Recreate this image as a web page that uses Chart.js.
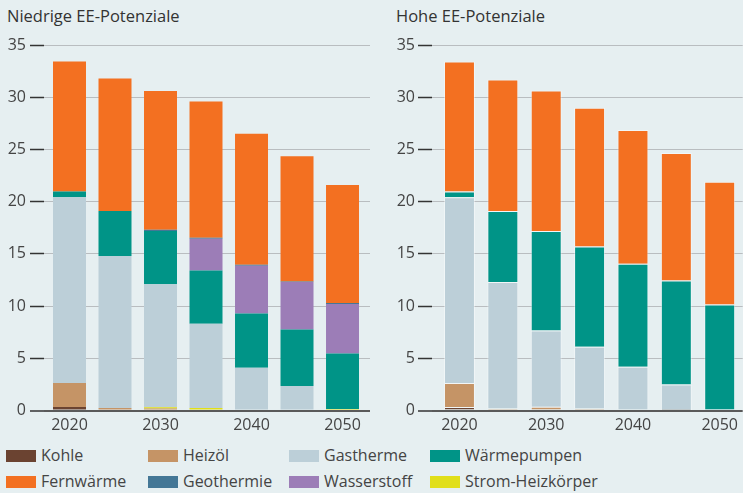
<!DOCTYPE html>
<html>
<head>
<meta charset="utf-8">
<script src="https://cdn.jsdelivr.net/npm/chart.js@4"></script>
<style>
  body { margin: 0; background: #e6eff1; width: 743px; height: 493px; overflow: hidden; position: relative; font-family: "Open Sans", sans-serif; }
  .panel { position: absolute; top: 0; height: 440px; }
  .title { position: absolute; top: 5px; font-size: 16.5px; color: #333; line-height: 22px; }
  .legend { position: absolute; left: 0; top: 444px; width: 743px; font-family: "Open Sans", sans-serif; font-size: 16px; color: #444; }
  .item { position: absolute; height: 22px; line-height: 22px; white-space: nowrap; }
  .sw { display: inline-block; width: 30px; height: 12px; vertical-align: -1px; margin-right: 5px; }
</style>
</head>
<body>
<div class="title" style="left:7px">Niedrige EE-Potenziale</div>
<div class="title" style="left:396px">Hohe EE-Potenziale</div>
<div class="panel" style="left:0;width:370px"><canvas id="chartLow"></canvas></div>
<div class="panel" style="left:370px;width:373px"><canvas id="chartHigh"></canvas></div>
<div class="legend" id="legend"></div>
<script>
var years = [2020, 2025, 2030, 2035, 2040, 2045, 2050];

var names = ['Kohle', 'Heizöl', 'Strom-Heizkörper', 'Gastherme', 'Wärmepumpen', 'Wasserstoff', 'Geothermie', 'Fernwärme'];
var colors = {
  'Kohle': '#6b4331',
  'Heizöl': '#c59466',
  'Gastherme': '#bccfd8',
  'Wärmepumpen': '#009487',
  'Fernwärme': '#f37021',
  'Geothermie': '#447796',
  'Wasserstoff': '#9c7db7',
  'Strom-Heizkörper': '#e1df1a'
};
var legendOrder = ['Kohle', 'Heizöl', 'Gastherme', 'Wärmepumpen', 'Fernwärme', 'Geothermie', 'Wasserstoff', 'Strom-Heizkörper'];

// Niedrige EE-Potenziale
var low_kohle = [0.33, 0, 0, 0, 0, 0, 0];
var low_heizoel = [2.3, 0.25, 0.2, 0.1, 0, 0, 0];
var low_strom = [0, 0, 0.1, 0.15, 0.1, 0.1, 0.15];
var low_gas = [17.8, 14.55, 11.8, 8.05, 4.0, 2.25, 0];
var low_wp = [0.55, 4.3, 5.1, 5.1, 5.2, 5.4, 5.3];
var low_h2 = [0, 0, 0, 3.05, 4.55, 4.55, 4.75];
var low_geo = [0, 0, 0.1, 0.1, 0.1, 0.05, 0.1];
var low_fw = [12.45, 12.7, 13.3, 13.05, 12.55, 12.0, 11.3];

// Hohe EE-Potenziale
var high_kohle = [0.33, 0, 0, 0, 0, 0, 0];
var high_heizoel = [2.3, 0.2, 0.35, 0.2, 0.1, 0.05, 0];
var high_strom = [0, 0, 0, 0, 0, 0, 0];
var high_gas = [17.8, 12.1, 7.3, 5.9, 4.1, 2.45, 0];
var high_wp = [0.55, 6.8, 9.55, 9.6, 9.85, 9.95, 10.15];
var high_h2 = [0, 0, 0, 0, 0, 0, 0];
var high_geo = [0, 0, 0, 0, 0, 0, 0];
var high_fw = [12.45, 12.6, 13.45, 13.3, 12.8, 12.2, 11.75];

var yTicks = [0, 5, 10, 15, 20, 25, 30, 35];

function makeSets(series, border) {
  return series.map(function(vals, k) {
    return {
      label: names[k],
      data: years.map(function(yr, i) { return {x: yr, y: vals[i]}; }),
      backgroundColor: colors[names[k]],
      borderColor: border ? 'rgba(255,255,255,0.45)' : colors[names[k]],
      borderWidth: border ? 1 : 0,
      categoryPercentage: 1,
      barPercentage: border ? 0.714 : 0.725
    };
  });
}

function makeChart(id, series, xmin, xmax, axisWidth, pad, border) {
  return new Chart(document.getElementById(id), {
    type: 'bar',
    data: { datasets: makeSets(series, border) },
    options: {
      responsive: true,
      maintainAspectRatio: false,
      animation: false,
      layout: { padding: { top: 45, left: 0, right: 0, bottom: 0 } },
      plugins: { legend: { display: false }, tooltip: { enabled: false } },
      scales: {
        x: {
          type: 'linear',
          offset: false,
          stacked: true,
          min: xmin,
          max: xmax,
          afterFit: function(s) { s.height = 29.5; },
          grid: { display: false, drawTicks: false, offset: false },
          border: { display: false },
          ticks: {
            stepSize: 10,
            includeBounds: false,
            padding: 5,
            color: '#444',
            font: { family: 'Open Sans', size: 16 },
            callback: function(v) { return String(v); }
          }
        },
        y: {
          stacked: true,
          min: 0,
          max: 35,
          afterFit: function(s) { s.width = axisWidth; },
          afterBuildTicks: function(s) { s.ticks = yTicks.map(function(v) { return {value: v}; }); },
          border: { display: false },
          grid: {
            color: function(c) { return c.tick && c.tick.value === 0 ? '#5a5a5a' : '#b9bdc0'; },
            lineWidth: function(c) { return c.tick && c.tick.value === 0 ? 2 : 1; },
            tickColor: '#333',
            tickLength: 14,
            tickWidth: 1.5
          },
          ticks: {
            padding: pad,
            color: '#444',
            font: { family: 'Open Sans', size: 16 },
            callback: function(v) { return String(v); }
          }
        }
      }
    }
  });
}

makeChart('chartLow',
  [low_kohle, low_heizoel, low_strom, low_gas, low_wp, low_h2, low_geo, low_fw],
  2017.198, 2053.02, 44, 4, false);
makeChart('chartHigh',
  [high_kohle, high_heizoel, high_strom, high_gas, high_wp, high_h2, high_geo, high_fw],
  2016.833, 2052.65, 62, 3, true);

// legend, 4 columns x 2 rows
var colX = [6, 148, 289, 430];
var rowY = [0, 26];
var lg = document.getElementById('legend');
legendOrder.forEach(function(n, i) {
  var d = document.createElement('div');
  d.className = 'item';
  d.style.left = colX[i % 4] + 'px';
  d.style.top = rowY[Math.floor(i / 4)] + 'px';
  d.innerHTML = '<span class="sw" style="background:' + colors[n] + '"></span>' + n;
  lg.appendChild(d);
});
</script>
</body>
</html>
